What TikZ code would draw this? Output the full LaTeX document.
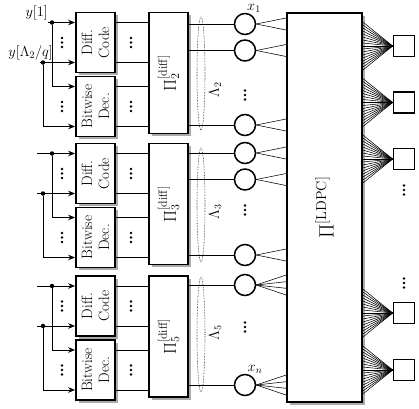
\documentclass[tikz,border=0pt]{standalone}
\usetikzlibrary{shadows,arrows.meta,calc}
\newcommand\mydots[2]{\foreach \k in {-4.5,0,4.5}{\fill (#1,#2+\k) circle (1.35pt);}}
\begin{document}
\begin{tikzpicture}[x=1pt,y=-1pt,
  font=\fontsize{14}{17}\selectfont,
  blk/.style={draw,line width=1.8pt,fill=white,drop shadow={shadow xshift=2.5pt,shadow yshift=-2.5pt,fill=black!60,opacity=0.55},inner sep=0pt,align=center},
  vn/.style={draw,circle,line width=1.5pt,minimum size=21pt,inner sep=0pt,fill=white},
  cn/.style={draw,rectangle,line width=1.7pt,minimum size=21pt,inner sep=0pt,fill=white},
  arr/.style={line width=0.9pt,-{Stealth[length=7pt,width=5.5pt]}},
  ln/.style={line width=0.9pt},
  jd/.style={circle,fill,inner sep=0pt,minimum size=4.5pt},
  fan/.style={line width=0.55pt},
  btxt/.style={font=\fontsize{15}{17}\selectfont},
]
\useasboundingbox (0,0) rectangle (419,408);

% LDPC interleaver
\node[blk,minimum width=75pt,minimum height=389pt] (L) at (324.5,207.5) {};
\node[rotate=90] (Ll) at (L) {\fontsize{22}{26}\selectfont$\Pi^{[\mathrm{LDPC}]}$};

% groups
\foreach \g/\T/\xa/\xb in {2/12.5/48/40,3/143.5/37/37,5/276/37/37}{
  \node[blk,minimum width=39pt,minimum height=60pt] (d\g) at (95.5,\T+30) {};
  \node[btxt,rotate=90,align=center] (dt\g) at (d\g) {Diff.\\Code};
  \node[blk,minimum width=39pt,minimum height=60pt] (b\g) at (95.5,\T+94) {};
  \node[btxt,rotate=90,align=center] (bt\g) at (b\g) {Bitwise\\Dec.};
  \node[blk,minimum width=39pt,minimum height=121pt] (p\g) at (168.5,\T+60.5) {};
  \node[rotate=90] (pt\g) at (p\g) {\LARGE$\Pi_{\g}^{[\mathrm{diff}]}$};
  \coordinate (a\g) at (\xa,\T+10);
  \coordinate (c\g) at (\xb,\T+50);
  \node[jd] (j\g) at (52,\T+10) {};
  \node[jd] (h\g) at (43,\T+50) {};
  \coordinate (k\g) at (52,\T+74);
  \coordinate (m\g) at (43,\T+114);
  \draw[ln] (a\g) -- (j\g);
  \draw[ln] (c\g) -- (h\g);
  \draw[arr] (j\g) -- (j\g -| d\g.west);
  \draw[arr] (h\g) -- (h\g -| d\g.west);
  \draw[ln] (j\g) -- (k\g);
  \draw[ln] (h\g) -- (m\g);
  \draw[arr] (k\g) -- (k\g -| b\g.west);
  \draw[arr] (m\g) -- (m\g -| b\g.west);
  \draw[ln] (d\g.east |- j\g) -- (p\g.west |- j\g);
  \draw[ln] (d\g.east |- h\g) -- (p\g.west |- h\g);
  \draw[ln] (b\g.east |- k\g) -- (p\g.west |- k\g);
  \draw[ln] (b\g.east |- m\g) -- (p\g.west |- m\g);
  \mydots{62}{\T+30}
  \mydots{62}{\T+94}
  \mydots{131}{\T+30}
  \mydots{131}{\T+94}
}

\node[anchor=south east,inner sep=1pt] (ly1) at (49,21.5) {$y[1]$};
\node[anchor=south east,inner sep=1pt] (ly2) at (54,61.5) {$y[\Lambda_2/q]$};

% ellipses and Lambda labels
\draw[densely dotted,line width=0.55pt] (201,73.5) ellipse (4 and 56.5);
\draw[densely dotted,line width=0.55pt] (201,205) ellipse (4 and 57);
\draw[densely dotted,line width=0.55pt] (201,334.5) ellipse (4 and 57.5);
\node[rotate=90] (l2) at (215,90) {$\Lambda_2$};
\node[rotate=90] (l3) at (215,212) {$\Lambda_3$};
\node[rotate=90] (l5) at (215,333) {$\Lambda_5$};

% variable nodes
\foreach \n/\y/\p in {1/24/2,2/50.5/2,3/125/2,4/153/3,5/179.5/3,6/255/3}{
  \node[vn] (v\n) at (245,\y) {};
  \draw[ln] (p\p.east |- v\n) -- (v\n);
  \foreach \k in {-6,6}{\draw[fan] (v\n.east) -- ($(L.west |- v\n)+(0,\k)$);}
}
\foreach \n/\y in {7/285,8/385}{
  \node[vn] (v\n) at (245,\y) {};
  \draw[ln] (p5.east |- v\n) -- (v\n);
  \foreach \k in {-10,-3.3,3.3,10}{\draw[fan] (v\n.east) -- ($(L.west |- v\n)+(0,\k)$);}
}
\node[anchor=base,inner sep=0pt] (x1) at (254,10.5) {$x_1$};
\node[anchor=base,inner sep=0pt] (xn) at (255,371) {$x_n$};
\mydots{245}{95}
\mydots{245}{210}
\mydots{245}{327}

% check nodes
\foreach \n/\y in {1/46,2/102.5,3/159,4/313,5/370}{
  \node[cn] (s\n) at (404,\y) {};
  \foreach \k in {-24,-21,...,24}{\draw[fan] ($(L.east |- s\n)+(0,\k)$) -- (s\n.west);}
}
\mydots{404}{190}
\mydots{404}{283}
\end{tikzpicture}
\end{document}
